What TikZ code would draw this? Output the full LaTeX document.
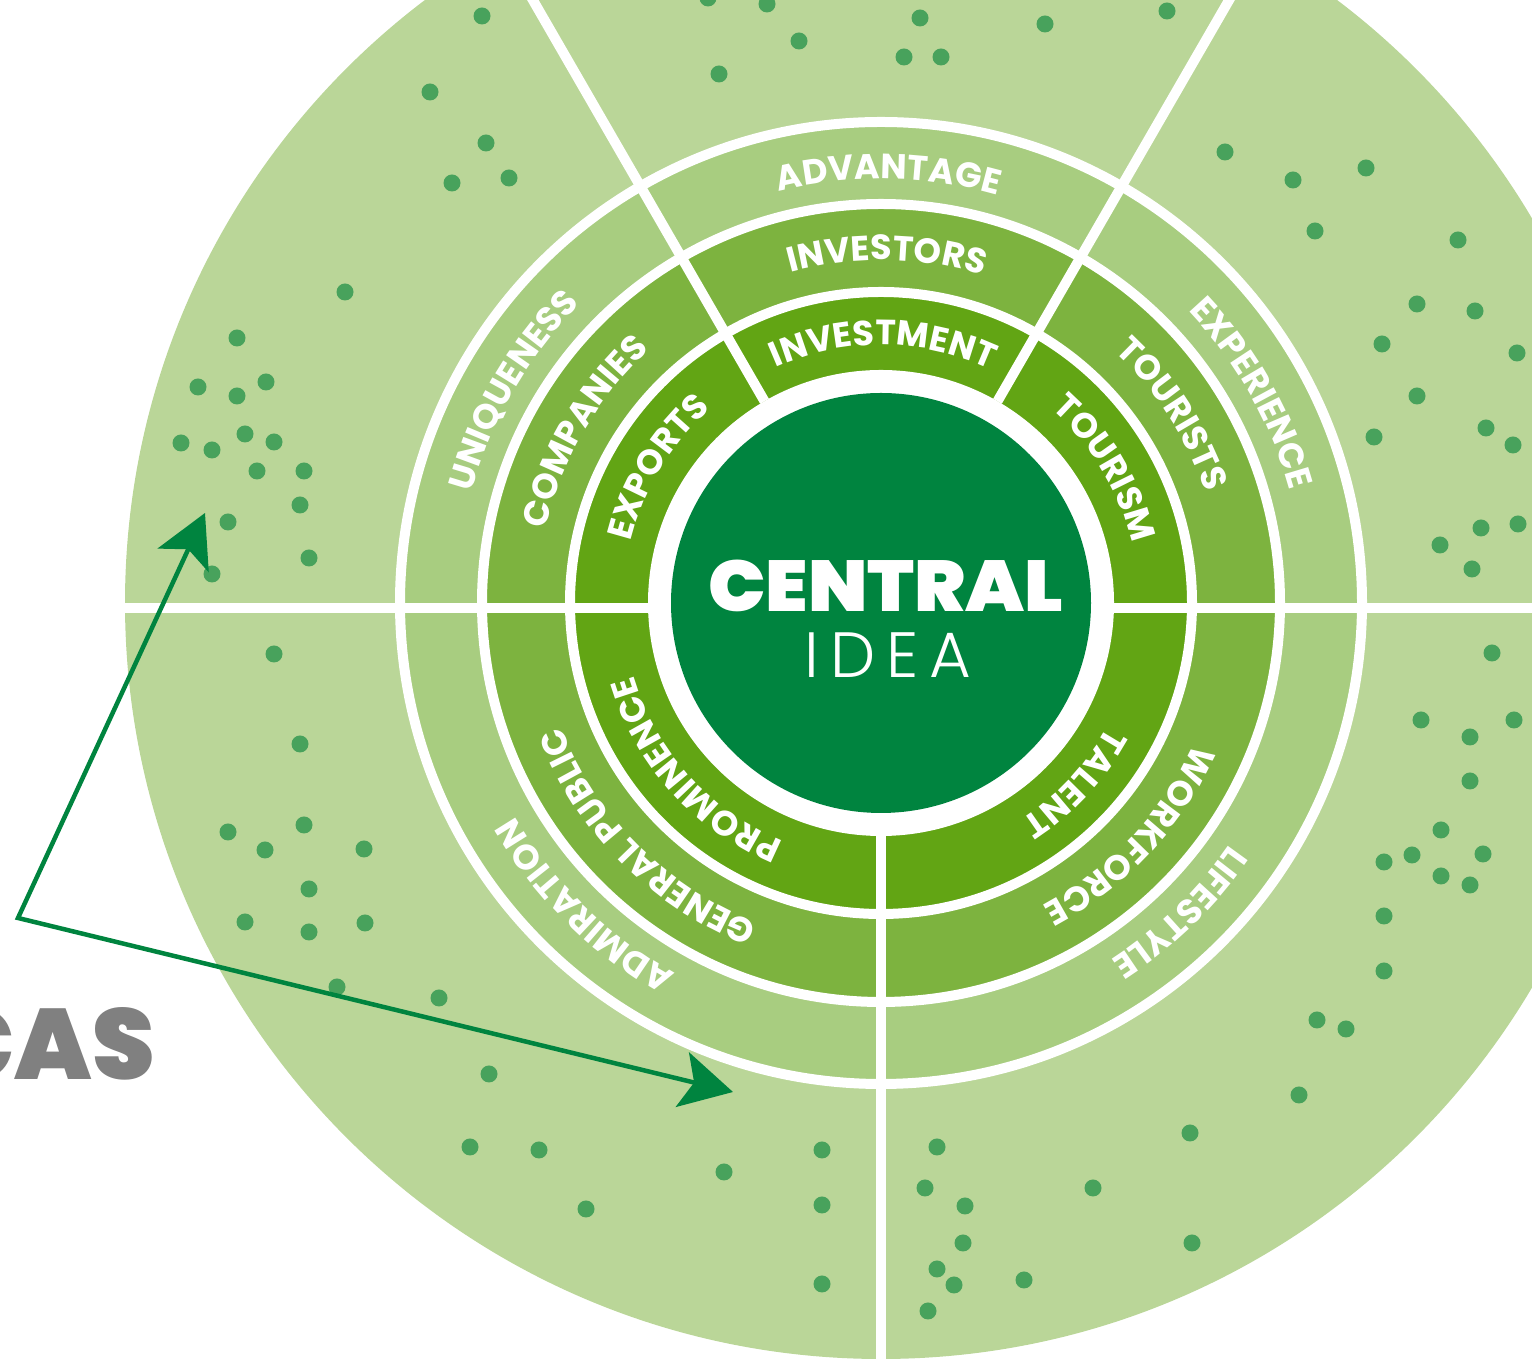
\documentclass[tikz,border=0pt]{standalone}
\usepackage{fontspec}
\setmainfont{Poppins}
\newfontfamily\heavyfont{Poppins ExtraBold}
\newfontfamily\blackfont{Poppins Black}
\newfontfamily\lightfont{Poppins Light}
\usepackage{tikz}
\usetikzlibrary{calc,arrows.meta,decorations.text}

\definecolor{outerring}{RGB}{186,214,152}
\definecolor{ringthree}{RGB}{168,205,128}
\definecolor{ringtwo}{RGB}{125,179,63}
\definecolor{ringone}{RGB}{98,165,20}
\definecolor{coregreen}{RGB}{0,132,63}
\definecolor{dotgreen}{RGB}{72,162,92}
\definecolor{casgray}{RGB}{128,128,128}

\newcommand{\ringfont}{\bfseries\fontsize{35}{35}\selectfont}
% curved label: baseline radius, middle angle, text (read clockwise)
\newcommand{\ringlabel}[3]{%
  \path[decorate, decoration={text along path, text align=center,
        text color=white, text={|\ringfont|#3}}]
    ($(c)+(#2+40:#1)$) arc[start angle=#2+40, end angle=#2-40, radius=#1];}

\begin{document}
\begin{tikzpicture}[x=1pt, y=1pt]
  \useasboundingbox (0,0) rectangle (1532,1362);
  \clip (0,0) rectangle (1532,1362);
  \coordinate (c) at (881,759);

  % ---- Rings --------------------------------------------------
  \fill[outerring] (c) circle (756);
  \fill[ringthree] (c) circle (481);
  \fill[ringtwo]   (c) circle (399);
  \fill[ringone]   (c) circle (311);
  \foreach \r in {481,399,311}
    \draw[white, line width=10pt] (c) circle (\r);
  \fill[white] (c) circle (233);

  % ---- Sector dividers ----------------------------------------
  \foreach \a in {60,120,270}
    \draw[white, line width=10pt] ($(c)+(\a:233)$) -- ($(c)+(\a:820)$);
  \foreach \a in {0,180}
    \draw[white, line width=10pt] ($(c)+(\a:230)+(0,-5)$) -- ($(c)+(\a:820)+(0,-5)$);

  % ---- Core ---------------------------------------------------
  \fill[coregreen] (c) circle (210);
  \node[anchor=base, inner sep=0pt, text=white,
        font=\blackfont\fontsize{72}{72}\selectfont] (central) at (886,750)
        {\scalebox{1.06}[1]{CENTRAL}};
  \node[anchor=base, inner sep=0pt, text=white,
        font=\lightfont\fontsize{64}{64}\selectfont] (idea) at (888,684)
        {I\kern11pt D\kern11pt E\kern11pt A};

  % ---- Dots in the outer band (x / y from the top) ------------
  \foreach \x/\y in {482/16, 430/92, 486/143, 452/183, 509/178, 345/292,
      237/338, 198/387, 237/396, 266/382, 181/443, 212/450, 245/434,
      274/442, 257/471, 304/471, 300/505, 228/522, 212/574, 309/558,
      708/-2, 767/4, 920/18, 1045/24, 1167/11, 799/41, 904/57, 941/57,
      719/74,
      1225/152, 1293/180, 1366/168, 1315/231, 1458/240, 1417/304,
      1475/311, 1382/344, 1517/353, 1417/396, 1374/437, 1486/428,
      1513/445, 1481/528, 1518/524, 1440/545, 1472/569,
      1492/653, 1421/720, 1514/720, 1470/737, 1470/781, 1441/830,
      1384/862, 1412/855, 1441/876, 1483/854, 1470/885, 1384/916,
      1384/971, 1317/1020, 1346/1029, 1299/1095, 1190/1133, 937/1147,
      925/1188, 1093/1188, 965/1206, 963/1243, 1192/1243, 937/1269,
      954/1285, 1024/1280, 928/1311,
      274/654, 300/744, 228/832, 265/850, 304/825, 364/849, 309/889,
      245/922, 309/932, 365/923, 337/987, 439/998, 489/1074, 470/1147,
      539/1150, 586/1209, 724/1172, 822/1150, 822/1205, 822/1284}
    \fill[dotgreen] (\x,{1362-\y}) circle (8.5);

  % ---- Ring labels --------------------------------------------
  \ringlabel{258}{148.7}{EXPORTS}
  \ringlabel{258}{89.5}{INVESTMENT}
  \ringlabel{258}{31}{TOURISM}
  \ringlabel{258}{222}{PROMINENCE}
  \ringlabel{258}{317}{TALENT}
  \ringlabel{343}{150}{COMPANIES}
  \ringlabel{343}{89}{INVESTORS}
  \ringlabel{343}{33}{TOURISTS}
  \ringlabel{343}{225}{GENERAL PUBLIC}
  \ringlabel{343}{317}{WORKFORCE}
  \ringlabel{424}{150}{UNIQUENESS}
  \ringlabel{424}{89}{ADVANTAGE}
  \ringlabel{424}{29.5}{EXPERIENCE}
  \ringlabel{424}{225.6}{ADMIRATION}
  \ringlabel{424}{314}{LIFESTYLE}

  % ---- Side caption and arrow ---------------------------------
  \node[anchor=base east, inner sep=0pt, text=casgray,
        font=\blackfont\fontsize{100}{100}\selectfont] (cas) at (155,282) {CAS};
  \coordinate (tipup)   at (205,849);
  \coordinate (bend)    at (18,444);
  \coordinate (tipdown) at (733,270);
  \draw[coregreen, line width=4.5pt, line join=miter,
        {Stealth[length=52pt,width=56pt,inset=12pt]}-{Stealth[length=52pt,width=56pt,inset=12pt]}]
    (tipup) -- (bend) -- (tipdown);
\end{tikzpicture}
\end{document}
